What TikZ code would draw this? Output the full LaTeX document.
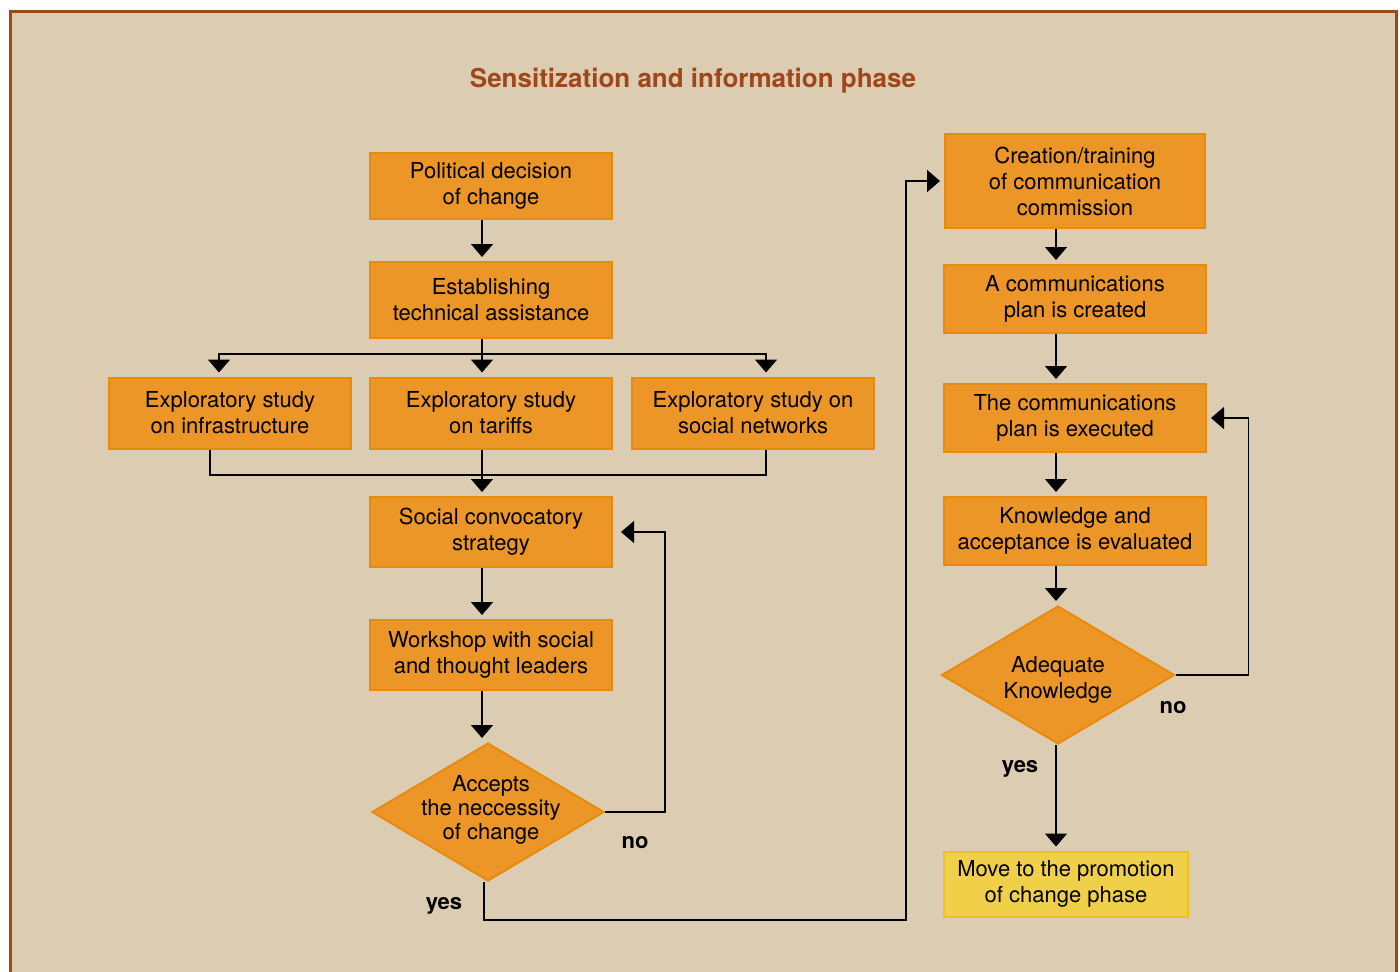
\documentclass[tikz,border=0pt]{standalone}
\usepackage{fontspec}
\setmainfont{TeX Gyre Heros}
\usetikzlibrary{shapes.geometric,arrows.meta,calc}
\definecolor{bgc}{RGB}{220,204,178}
\definecolor{framec}{RGB}{160,70,25}
\definecolor{boxc}{RGB}{235,150,38}
\definecolor{boxline}{RGB}{232,138,14}
\definecolor{movec}{RGB}{240,208,72}
\definecolor{moveline}{RGB}{235,195,30}
\tikzset{every picture/.style={line width=0.8pt}}
\tikzset{
  stepbox/.style={draw=boxline,fill=boxc,line width=1pt,minimum width=121pt,align=center,
    font=\fontsize{11}{13}\selectfont,inner sep=2pt},
  decide/.style={diamond,draw=boxline,fill=boxc,line width=1pt,inner sep=0pt,
    minimum width=116pt,minimum height=69pt},
  arr/.style={-{Triangle[width=11pt,length=6.5pt]},shorten >=2pt},
  answer/.style={font=\fontsize{11}{13}\selectfont\bfseries},
}

\begin{document}
\begin{tikzpicture}[x=0.5pt,y=-0.5pt]
	\useasboundingbox (0,0) rectangle (1400,971);
	\fill[white] (0,0) rectangle (1400,971);
	\filldraw[fill=bgc,draw=framec,line width=1.5pt] (10,11) rectangle (1396,1010); %frame
	\node[text=framec,font=\fontsize{13}{15}\selectfont\bfseries] (title) at (693,81) {Sensitization and information phase};
	% left column
	\node[stepbox,minimum height=33pt] (pol) at (491,186) {Political decision\\of change};
	\node[stepbox,minimum height=38pt] (est) at (491,300) {Establishing\\technical assistance};
	\node[stepbox,minimum height=35.5pt] (inf) at (230,413) {Exploratory study\\on infrastructure};
	\node[stepbox,minimum height=35.5pt] (tar) at (491,413) {Exploratory study\\on tariffs};
	\node[stepbox,minimum height=35.5pt] (soc) at (753,413) {Exploratory study on\\social networks};
	\node[stepbox,minimum height=35pt] (conv) at (491,532) {Social convocatory\\strategy};
	\node[stepbox,minimum height=35pt] (work) at (491,655) {Workshop with social\\and thought leaders};
	\node[decide,label={[align=center,font=\fontsize{11}{12}\selectfont,xshift=1.5pt,yshift=1pt]center:Accepts\\the neccessity\\of change}] (acc) at (488,812) {};
	% right column
	\node[stepbox,minimum width=130pt,minimum height=47pt] (cre) at (1075,181) {Creation/training\\of communication\\commission};
	\node[stepbox,minimum width=131pt,minimum height=34pt] (plan) at (1075,299) {A communications\\plan is created};
	\node[stepbox,minimum width=131pt,minimum height=34pt] (exe) at (1075,418) {The communications\\plan is executed};
	\node[stepbox,minimum width=131pt,minimum height=34pt] (kno) at (1075,531) {Knowledge and\\acceptance is evaluated};
	\node[decide,minimum width=116.5pt,label={[align=center,font=\fontsize{11}{13}\selectfont,yshift=-2.5pt]center:Adequate\\Knowledge}] (adq) at (1058,675) {};
	\node[stepbox,draw=moveline,fill=movec,minimum width=122pt,minimum height=32.5pt] (move) at (1066,884) {Move to the promotion\\of change phase};
	% helper points
	\coordinate (ax) at (482,0);
	\coordinate (bx) at (1056,0);
	\coordinate (split) at (482,354);
	\coordinate (merge) at (482,475);
	\coordinate (turn) at (906,920);
	% connectors
	\draw[arr] (pol.south -| ax) -- (est.north -| ax);
	\draw (est.south -| ax) -- (split);
	\draw[arr] (split) -| ($(inf.north)+(-11,0)$);
	\draw[arr] (split) -| ($(soc.north)+(13,0)$);
	\draw[arr] (split) -- (tar.north -| ax);
	\draw ($(inf.south)+(-20,0)$) |- (merge) -| ($(soc.south)+(13,0)$);
	\draw[arr] (tar.south -| ax) -- (conv.north -| ax);
	\draw[arr] (conv.south -| ax) -- (work.north -| ax);
	\draw[arr] (work.south -| ax) -- (acc.north -| ax);
	\draw[arr,shorten >=4pt] (acc.east) -- ++(60,0) |- (conv.east); %no
	\draw[arr] ($(acc.south)+(-4,0)$) |- (turn) |- (cre.west); %yes
	\draw[arr] (cre.south -| bx) -- (plan.north -| bx);
	\draw[arr] (plan.south -| bx) -- (exe.north -| bx);
	\draw[arr] (exe.south -| bx) -- (kno.north -| bx);
	\draw[arr] (kno.south -| bx) -- (adq.north -| bx);
	\draw[arr] (adq.south -| bx) -- (move.north -| bx);
	\draw[arr] (adq.east) -- ++(73,0) |- (exe.east); %no
	% answers
	\node[answer] (no1) at (635,843) {no};
	\node[answer] (yes1) at (444,906) {yes};
	\node[answer] (no2) at (1173,708) {no};
	\node[answer] (yes2) at (1020,769) {yes};
\end{tikzpicture}
\end{document}
